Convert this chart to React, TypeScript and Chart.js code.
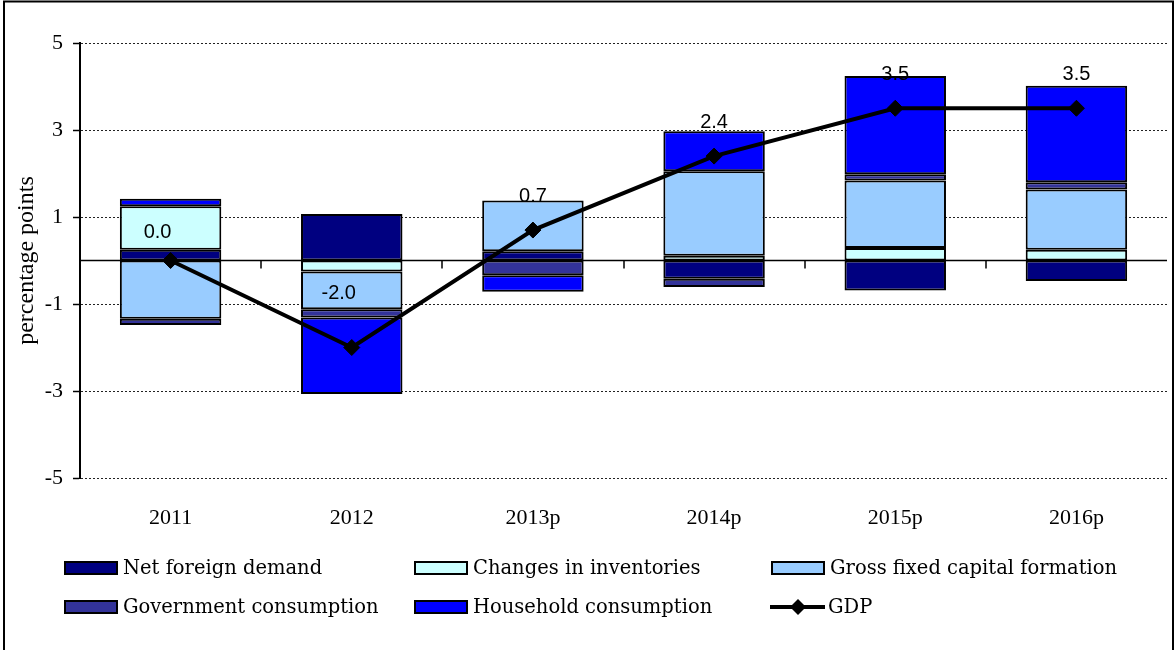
import React, { useEffect, useRef } from 'react';
import { Chart, registerables } from 'chart.js';

Chart.register(...registerables);

const categories = ['2011', '2012', '2013p', '2014p', '2015p', '2016p'];
const netForeignDemand = [0.25, 1.07, 0.21, -0.42, -0.69, -0.47];
const changesInInventories = [1.0, -0.25, 0.0, 0.11, 0.29, 0.25];
const grossFixedCapitalFormation = [-1.34, -0.87, 1.17, 1.94, 1.55, 1.38];
const governmentConsumption = [-0.14, -0.19, -0.34, -0.19, 0.14, 0.17];
const householdConsumption = [0.17, -1.76, -0.38, 0.92, 2.26, 2.22];
const gdp = [0.0, -2.0, 0.7, 2.4, 3.5, 3.5];
const yTicks = [-5, -3, -1, 1, 3, 5];

const seriesNames = [
  'Net foreign demand',
  'Changes in inventories',
  'Gross fixed capital formation',
  'Government consumption',
  'Household consumption',
  'GDP',
];

// style-only label nudges (pixels) for the GDP value labels
const labelDx = [-13, -13, 0, 0, 0, 0];
const labelDy = [28, 54, 34, 34, 34, 34];

const decorPlugin = {
  id: 'decor',
  beforeDatasetsDraw(chart: any) {
    const { ctx, chartArea, scales } = chart;
    const y0 = scales.y.getPixelForValue(0);
    ctx.save();
    ctx.strokeStyle = '#000';
    ctx.lineWidth = 1.5;
    ctx.beginPath();
    ctx.moveTo(chartArea.left, y0);
    ctx.lineTo(chartArea.right, y0);
    ctx.stroke();
    const n = categories.length;
    const w = (chartArea.right - chartArea.left) / n;
    ctx.lineWidth = 1.5;
    ctx.beginPath();
    for (let i = 1; i < n; i++) {
      const x = Math.round(chartArea.left + i * w);
      ctx.moveTo(x, y0);
      ctx.lineTo(x, y0 + 8);
    }
    ctx.stroke();
    ctx.restore();
  },
  afterDatasetsDraw(chart: any) {
    const { ctx } = chart;
    const idx = chart.data.datasets.findIndex((d: any) => d.type === 'line');
    const meta = chart.getDatasetMeta(idx);
    ctx.save();
    ctx.font = '20px "Liberation Sans"';
    ctx.fillStyle = '#000';
    ctx.textAlign = 'center';
    ctx.textBaseline = 'middle';
    meta.data.forEach((pt: any, i: number) => {
      const v = chart.data.datasets[idx].data[i];
      ctx.fillText(Number(v).toFixed(1), pt.x + labelDx[i], pt.y - labelDy[i]);
    });
    ctx.restore();
  },
  afterDraw(chart: any) {
    const { ctx } = chart;
    ctx.save();
    // legend
    const cols = [65, 415, 772];
    const rows = [568, 607];
    ctx.font = '19.5px "DejaVu Serif"';
    ctx.textBaseline = 'middle';
    ctx.textAlign = 'left';
    chart.data.datasets.forEach((ds: any, i: number) => {
      const x = cols[i % 3];
      const y = rows[Math.floor(i / 3)];
      if (ds.type === 'line') {
        ctx.strokeStyle = '#000';
        ctx.lineWidth = 4;
        ctx.beginPath();
        ctx.moveTo(x - 2, y);
        ctx.lineTo(x + 53, y);
        ctx.stroke();
        const cx = x + 26;
        ctx.fillStyle = '#000';
        ctx.beginPath();
        ctx.moveTo(cx, y - 8);
        ctx.lineTo(cx + 8, y);
        ctx.lineTo(cx, y + 8);
        ctx.lineTo(cx - 8, y);
        ctx.closePath();
        ctx.fill();
        ctx.fillText(ds.label, x + 56, y + 1);
      } else {
        ctx.fillStyle = ds.backgroundColor;
        ctx.fillRect(x, y - 6, 52, 12);
        ctx.strokeStyle = '#000';
        ctx.lineWidth = 2;
        ctx.strokeRect(x, y - 6, 52, 12);
        ctx.fillStyle = '#000';
        ctx.fillText(ds.label, x + 58, y + 1);
      }
    });
    // outer frame
    ctx.strokeStyle = '#000';
    ctx.lineWidth = 2;
    ctx.beginPath();
    ctx.moveTo(4, 650);
    ctx.lineTo(4, 1.5);
    ctx.lineTo(1173, 1.5);
    ctx.lineTo(1173, 650);
    ctx.stroke();
    ctx.restore();
  },
};

export default function App() {
  const ref = useRef<HTMLCanvasElement | null>(null);

  useEffect(() => {
    document.body.style.margin = '0';
    const canvas = ref.current;
    if (!canvas) return;
    const barCommon = {
      type: 'bar' as const,
      borderColor: '#000',
      borderWidth: 2,
      borderSkipped: false,
      barPercentage: 0.56,
      categoryPercentage: 1.0,
      stack: 'contrib',
      order: 2,
    };
    const chart = new Chart(canvas, {
      type: 'bar',
      data: {
        labels: categories,
        datasets: [
          { ...barCommon, label: seriesNames[0], data: netForeignDemand, backgroundColor: '#000080' },
          { ...barCommon, label: seriesNames[1], data: changesInInventories, backgroundColor: '#CCFFFF' },
          { ...barCommon, label: seriesNames[2], data: grossFixedCapitalFormation, backgroundColor: '#99CCFF' },
          { ...barCommon, label: seriesNames[3], data: governmentConsumption, backgroundColor: '#333399' },
          { ...barCommon, label: seriesNames[4], data: householdConsumption, backgroundColor: '#0000FF' },
          {
            type: 'line' as const,
            label: seriesNames[5],
            data: gdp,
            borderColor: '#000',
            backgroundColor: '#000',
            borderWidth: 4,
            pointStyle: 'rectRot',
            pointRadius: 8,
            pointBackgroundColor: '#000',
            pointBorderColor: '#000',
            pointBorderWidth: 1,
            tension: 0,
            stack: 'gdp',
            order: 1,
          } as any,
        ],
      },
      options: {
        responsive: false,
        animation: false,
        layout: { padding: { top: 43, right: 3, left: 0, bottom: 0 } },
        plugins: {
          legend: { display: false },
          tooltip: { enabled: false },
        },
        scales: {
          x: {
            stacked: true,
            grid: { display: false },
            border: { display: false },
            ticks: {
              color: '#000',
              font: { family: 'Liberation Serif', size: 22 },
              padding: 19,
              maxRotation: 0,
            },
            afterFit: (s: any) => {
              s.height = 650 - 478;
            },
          },
          y: {
            stacked: true,
            min: -5,
            max: 5,
            afterBuildTicks: (s: any) => {
              s.ticks = yTicks.map((v) => ({ value: v }));
            },
            ticks: {
              color: '#000',
              font: { family: 'Liberation Serif', size: 22 },
              padding: 10,
            },
            grid: {
              color: '#222',
              lineWidth: 1,
              tickColor: '#000',
              tickLength: 7,
              tickWidth: 1.5,
              tickBorderDash: [],
            },
            border: { color: '#000', width: 2, dash: [2, 2] },
            title: {
              display: true,
              text: 'percentage points',
              color: '#000',
              font: { family: 'Liberation Serif', size: 24 },
              padding: { top: 12, bottom: 0 },
            },
            afterFit: (s: any) => {
              s.width = 80;
            },
          },
        },
      },
      plugins: [decorPlugin],
    });
    return () => chart.destroy();
  }, []);

  return (
    <div style={{ width: 1176, height: 650 }}>
      <canvas ref={ref} width={1176} height={650} style={{ display: 'block', width: 1176, height: 650 }} />
    </div>
  );
}
